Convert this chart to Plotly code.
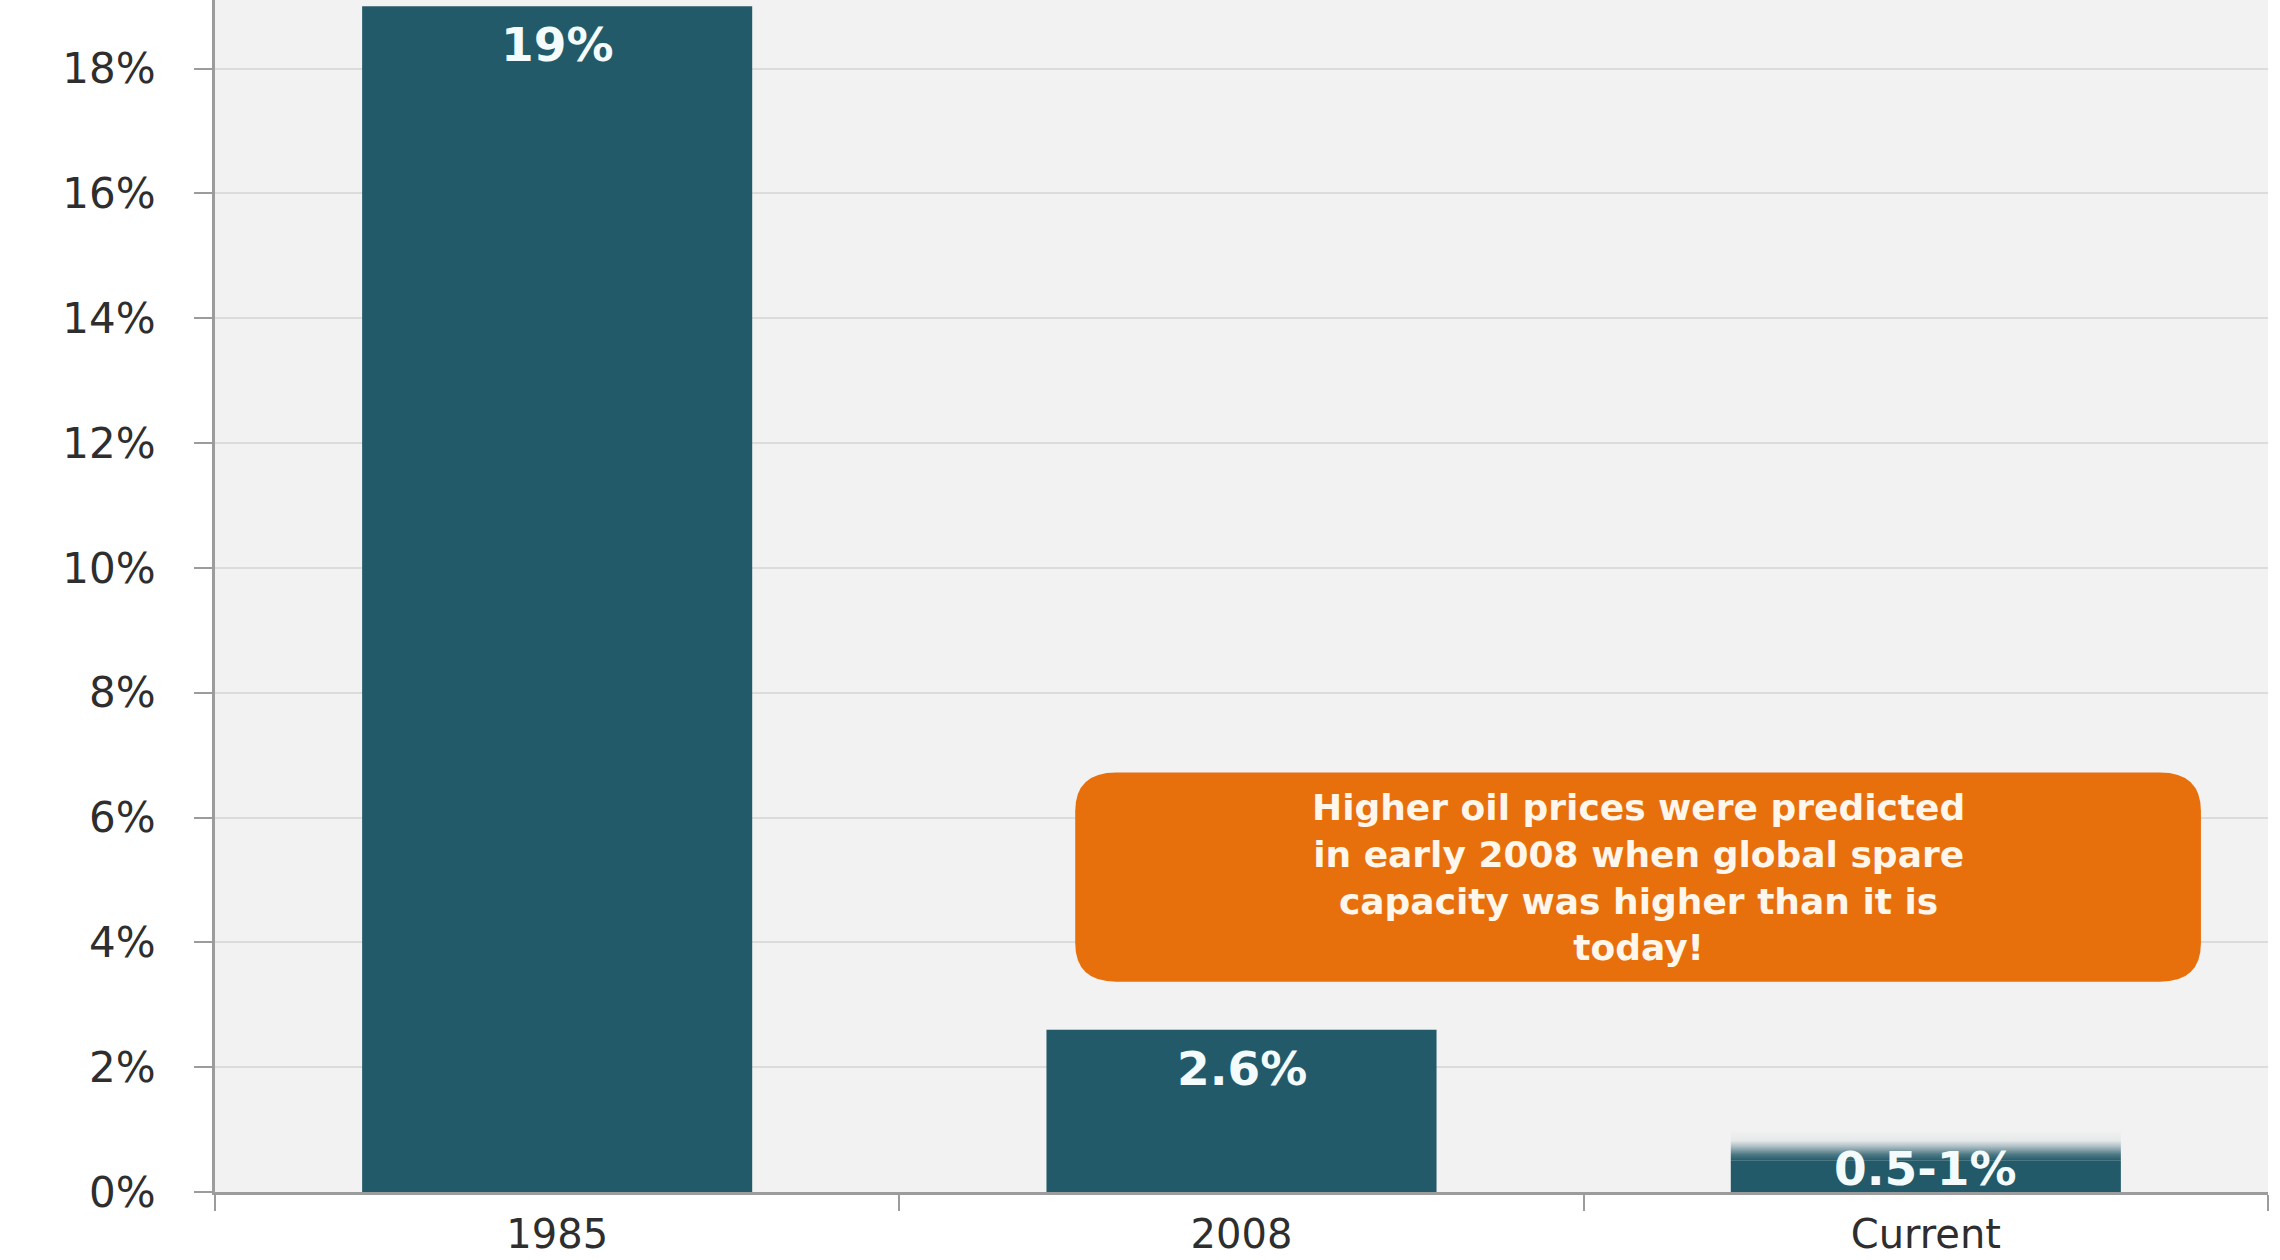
import plotly.graph_objects as go

# ---- data -------------------------------------------------------------
categories = ["1985", "2008", "Current"]
spare_capacity = [19.0, 2.6]          # global spare capacity, % of demand
current_low = 0.5                      # current estimate is a range
current_high = 1.0
bar_labels = ["19%", "2.6%", "0.5-1%"]
y_tick_values = [0, 2, 4, 6, 8, 10, 12, 14, 16, 18]
y_tick_labels = [f"{v}%" for v in y_tick_values]
note_lines = [
    "Higher oil prices were predicted",
    "in early 2008 when global spare",
    "capacity was higher than it is",
    "today!",
]

# ---- style ------------------------------------------------------------
BAR = "#235a69"
BAR_RGB = "35,90,105"
ORANGE = "#e8700c"
AXIS = "#9c9c9c"
GRID = "#dcdcdc"
PLOT_BG = "#f2f2f2"
FONT = "DejaVu Sans"
BAR_W = 0.57

x_pos = list(range(len(categories)))

fig = go.Figure()

# solid bars (the current bar is solid up to the low end of its range)
fig.add_trace(go.Bar(
    x=x_pos,
    y=spare_capacity + [current_low],
    width=BAR_W,
    marker=dict(color=BAR, line=dict(width=0)),
    hoverinfo="skip",
))

# fading top of the current bar, from the low to the high estimate
cx = x_pos[2]
fig.add_trace(go.Scatter(
    x=[cx - BAR_W / 2, cx + BAR_W / 2, cx + BAR_W / 2, cx - BAR_W / 2, cx - BAR_W / 2],
    y=[current_low, current_low, current_high, current_high, current_low],
    mode="lines",
    fill="toself",
    line=dict(width=0, color="rgba(0,0,0,0)"),
    fillgradient=dict(
        type="vertical",
        colorscale=[
            [0.0, f"rgba({BAR_RGB},1)"],
            [0.2, f"rgba({BAR_RGB},0.8)"],
            [0.45, f"rgba({BAR_RGB},0.35)"],
            [0.65, f"rgba({BAR_RGB},0.06)"],
            [1.0, f"rgba({BAR_RGB},0)"],
        ],
    ),
    hoverinfo="skip",
))

# value labels inside the top of each bar
label_tops = spare_capacity + [current_high]
annotations = []
for xi, top, txt in zip(x_pos, label_tops, bar_labels):
    annotations.append(dict(
        x=xi, y=top, xref="x", yref="y", text=f"<b>{txt}</b>",
        showarrow=False, yanchor="top", yshift=-9,
        font=dict(family=FONT, size=47, color="#f4fbfc"),
    ))

# call-out box
bx0, bx1, by0, by1 = 0.757, 2.402, 3.37, 6.72
rx, ry = 0.06, 0.62
box_path = (f"M {bx0 + rx},{by0} L {bx1 - rx},{by0} Q {bx1},{by0} {bx1},{by0 + ry} "
            f"L {bx1},{by1 - ry} Q {bx1},{by1} {bx1 - rx},{by1} "
            f"L {bx0 + rx},{by1} Q {bx0},{by1} {bx0},{by1 - ry} "
            f"L {bx0},{by0 + ry} Q {bx0},{by0} {bx0 + rx},{by0} Z")
shapes = [dict(type="path", path=box_path, xref="x", yref="y",
               fillcolor=ORANGE, line=dict(width=0), layer="above")]

annotations.append(dict(
    x=(bx0 + bx1) / 2, y=(by0 + by1) / 2, xref="x", yref="y",
    text="<b>" + "<br>".join(note_lines) + "</b>",
    showarrow=False, align="center",
    font=dict(family=FONT, size=36, color="#fff6ec"),
))

fig.update_layout(
    width=2280, height=1260,
    margin=dict(l=215, r=12, t=0, b=68),
    paper_bgcolor="white",
    plot_bgcolor=PLOT_BG,
    showlegend=False,
    barmode="overlay",
    shapes=shapes,
    annotations=annotations,
    font=dict(family=FONT, color="#333333"),
    xaxis=dict(
        range=[-0.5, 2.5],
        tickmode="array", tickvals=x_pos, ticktext=categories,
        ticks="", showgrid=False, zeroline=False,
        showline=True, linecolor=AXIS, linewidth=3,
        tickfont=dict(family=FONT, size=40, color="#2e2e2e"),
        ticklabelstandoff=5,
        automargin=False,
        minor=dict(tickmode="array", tickvals=[-0.5, 0.5, 1.5, 2.5],
                   ticks="outside", ticklen=16, tickwidth=2, tickcolor=AXIS,
                   showgrid=False),
        fixedrange=True,
    ),
    yaxis=dict(
        range=[0, 19.1],
        tickmode="array", tickvals=y_tick_values, ticktext=y_tick_labels,
        ticks="outside", ticklen=18, tickwidth=2, tickcolor=AXIS,
        showgrid=True, gridcolor=GRID, gridwidth=2,
        zeroline=False,
        showline=True, linecolor=AXIS, linewidth=3,
        tickfont=dict(family=FONT, size=42, color="#2e2e2e"),
        ticklabelstandoff=30,
        automargin=False,
        fixedrange=True,
    ),
)

fig.write_html("out.html", config={"displayModeBar": False})
